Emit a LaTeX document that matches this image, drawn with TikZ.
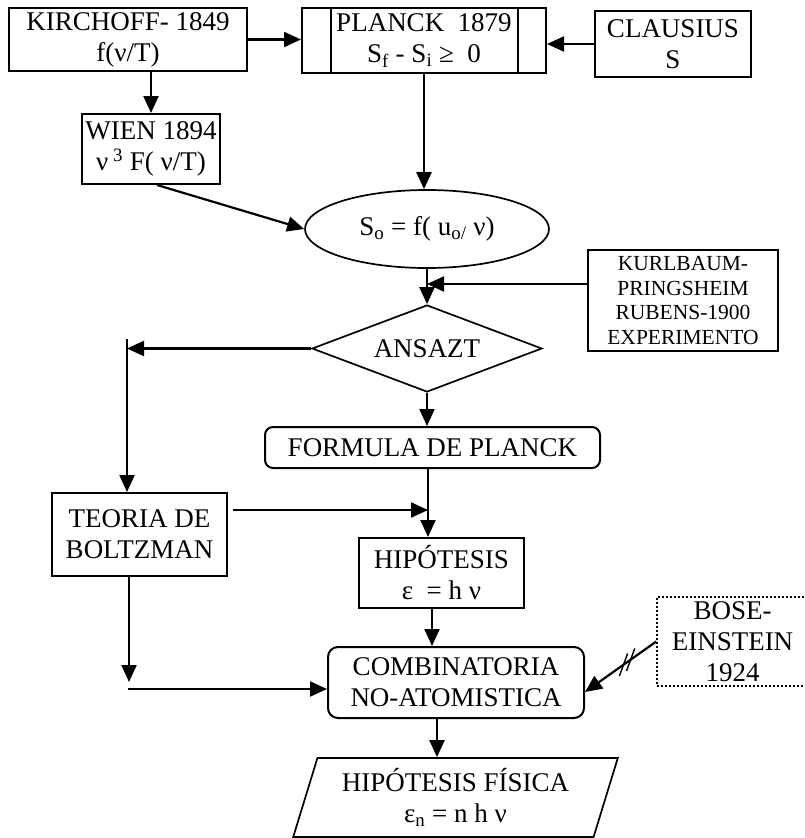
\documentclass[tikz,border=0pt]{standalone}
\usepackage{fontspec}
\setmainfont{Liberation Serif}
\usepackage{tikz}
\usetikzlibrary{shapes.geometric, arrows.meta, positioning, calc}

\begin{document}
\begin{tikzpicture}[x=1pt, y=-1pt,
  box/.style={draw, line width=2pt, inner sep=0pt, align=center,
    font=\fontsize{27}{31}\selectfont},
  arr/.style={line width=2.2pt, -{Triangle[length=17pt,width=15pt]}},
  plain/.style={line width=2.2pt}]
\useasboundingbox (0,0) rectangle (805,838);

% top row
\node[box, minimum width=238pt, minimum height=63pt] (kirch) at (128,39.5) {KIRCHOFF- 1849\\f(ν/T)};
\node[box, minimum width=244pt, minimum height=65pt] (planck) at (424,40.5) {PLANCK~~1879\\S\textsubscript{f} - S\textsubscript{i} ≥~~0};
\draw[line width=2pt] ($(planck.north west)+(30,0)$) -- ($(planck.south west)+(30,0)$);
\draw[line width=2pt] ($(planck.north east)+(-29,0)$) -- ($(planck.south east)+(-29,0)$);
\node[box, minimum width=156pt, minimum height=66pt] (claus) at (673,44) {CLAUSIUS\\S};
\node[box, minimum width=138pt, minimum height=70pt] (wien) at (151,149) {WIEN 1894\\ν\textsuperscript{ 3} F( ν/T)};

% middle
\node[box, ellipse, line width=1.7pt, minimum width=244pt, minimum height=78pt] (ell) at (427,229) {S\textsubscript{o} = f( u\textsubscript{o/} ν)};
\node[box, font=\fontsize{21.5}{24.5}\selectfont, minimum width=190pt, minimum height=101pt] (kurl) at (683,300.5) {KURLBAUM-\\PRINGSHEIM\\RUBENS-1900\\EXPERIMENTO};
\node[box, diamond, line width=1.7pt, aspect=2.6, minimum width=230pt, minimum height=87pt] (ansazt) at (427,348.5) {ANSAZT};
\node[box, rounded corners=8pt, minimum width=335pt, minimum height=41pt] (formula) at (432.5,447.5) {FORMULA DE PLANCK};

% lower part
\node[box, minimum width=175pt, minimum height=83pt] (teoria) at (139.5,534.5) {TEORIA DE\\BOLTZMAN};
\node[box, minimum width=165pt, minimum height=70pt] (hip) at (441.5,573) {HIPÓTESIS\\ε~~= h ν};
\node[box, rounded corners=10pt, minimum width=256pt, minimum height=71pt] (comb) at (456,682.5) {COMBINATORIA\\NO-ATOMISTICA};
\node[box, dotted, line width=1.4pt, minimum width=151pt, minimum height=89pt] (bose) at (732.5,641.5) {BOSE-\\EINSTEIN\\1924};
\node[box, trapezium, trapezium stretches=true, trapezium left angle=71, trapezium right angle=109,
  line width=1.7pt, minimum width=325pt, minimum height=79pt] (fisica) at (455.5,797.5) {HIPÓTESIS FÍSICA\\ε\textsubscript{n} = n h ν};

% connectors
\draw[arr] (kirch.east) -- (kirch.east -| planck.west);
\draw[arr] (claus.west) -- (claus.west -| planck.east);
\draw[arr] (kirch.south -| wien.north) -- (wien.north);
\draw[arr] ($(wien.south)+(6,0)$) -- (ell.west);
\draw[arr] (planck.south) -- (planck.south |- ell.north);
\draw[arr] (ell.south) -- (ansazt.north);
\draw[arr] ($(kurl.west)+(0,-16.5)$) -- ($(kurl.west -| ell.south)+(0,-16.5)$);
\draw[arr] (ansazt.south) -- (ansazt.south |- formula.north);

\coordinate (lt) at (127,339);
\coordinate (lb) at (128,689);
\draw[arr] (ansazt.west) -- (ansazt.west -| lt);
\draw[arr] (lt) -- (lt |- teoria.north);

\coordinate (fh) at ($(formula.south)+(-4.5,0)$);
\coordinate (tb) at ($(teoria.east)+(5,-24.5)$);
\draw[arr] (fh) -- (fh |- hip.north);
\draw[arr] (tb) -- (tb -| fh);

\coordinate (hc) at ($(hip.south)+(-9.5,0)$);
\draw[arr] (hc) -- (hc |- comb.north);
\coordinate (ts) at ($(teoria.south)+(-10.5,0)$);
\draw[arr] (ts) -- ($(ts |- lb)+(0,-7)$);
\draw[arr] (lb) -- (lb -| comb.west);

\coordinate (cf) at ($(comb.south)+(-19,0)$);
\draw[arr] (cf) -- (cf |- fisica.north);

\draw[arr] (bose.west) -- coordinate[pos=0.36] (k1) coordinate[pos=0.46] (k2) ($(comb.east)+(0,9.5)$);
\draw[line width=1.4pt] ($(k1)+(110:12)$) -- ($(k1)+(-70:12)$);
\draw[line width=1.4pt] ($(k2)+(110:12)$) -- ($(k2)+(-70:12)$);
\end{tikzpicture}
\end{document}
